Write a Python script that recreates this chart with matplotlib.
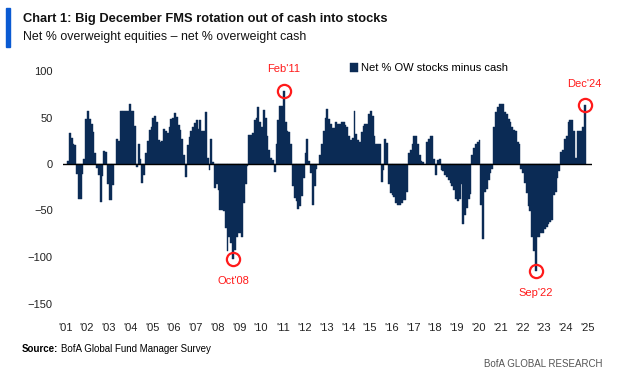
import numpy as np
import matplotlib
matplotlib.use("Agg")
from matplotlib import pyplot as plt
from matplotlib.patches import Rectangle

plt.rcParams['font.family'] = ['Liberation Sans', 'DejaVu Sans']

# monthly FMS readings, series starts Apr 2001
y2001 = [3, 33, 28, 22, 20, -11, -38, -38, -11, 5]
y2002 = [48, 57, 48, 43, 34, 12, -4, -12, -41, -13, 14, 13]
y2003 = [-22, -39, -39, -23, 0, 27, 25, 57, 57, 57, 57, 57]
y2004 = [64, 57, 57, 41, -3, 21, 5, -20, -12, 12, 25, 37]
y2005 = [40, 49, 52, 45, 26, 24, 25, 38, 36, 33, 40, 48]
y2006 = [50, 55, 51, 42, 37, 27, 10, -14, 20, 29, 36, 40]
y2007 = [44, 47, 38, 47, 36, 36, 56, 6, -6, 27, 2, -26]
y2008 = [-22, -28, -49, -49, -51, -69, -94, -79, -85, -102, -92, -79]
y2009 = [-74, -74, -79, -42, -22, -2, 31, 31, 33, 47, 49, 61]
y2010 = [45, 40, 58, 50, 30, 15, 6, 4, -9, 22, 47, 62]
y2011 = [62, 79, 45, 36, 34, 22, -24, -37, -40, -48, -45, -34]
y2012 = [-15, 12, 27, 3, -10, -44, -24, -5, 0, 10, 21, 36]
y2013 = [50, 59, 48, 43, 39, 39, 45, 43, 43, 45, 45, 42]
y2014 = [40, 30, 26, 28, 57, 32, 26, 24, 34, 41, 43, 43]
y2015 = [54, 57, 52, 30, 21, 21, 21, -19, -6, 27, 23, -21]
y2016 = [-31, -33, -35, -42, -44, -44, -42, -39, -39, -30, 12, 15]
y2017 = [21, 30, 30, 21, 10, 3, 2, 0, 24, 27, 30, 30]
y2018 = [5, -12, 4, 5, -6, -8, -12, -14, -17, -20, -24, -28]
y2019 = [-38, -40, -38, -22, -65, -55, -47, -38, -32, 10, 17, 22]
y2020 = [24, 26, -44, -81, -30, -27, -17, -10, -5, 40, 56, 61]
y2021 = [64, 64, 64, 56, 54, 48, 45, 40, 37, 36, 24, 21]
y2022 = [-5, -10, -20, -31, -45, -51, -78, -94, -115, -79, -79, -74]
y2023 = [-74, -70, -68, -65, -62, -60, -33, -30, -15, -8, 13, 15]
y2024 = [27, 30, 45, 47, 47, 36, 6, 36, 36, 36, 40, 63]

years = [y2001, y2002, y2003, y2004, y2005, y2006, y2007, y2008, y2009,
         y2010, y2011, y2012, y2013, y2014, y2015, y2016, y2017, y2018,
         y2019, y2020, y2021, y2022, y2023, y2024]
year_labels = ["'%02d" % y for y in range(1, 26)]

# callouts: (label, year, month 1-12, above?)
callouts = [("Oct'08", 2008, 10, False), ("Feb'11", 2011, 2, True),
            ("Sep'22", 2022, 9, False), ("Dec'24", 2024, 12, True)]

values = np.concatenate([np.array(v, float) for v in years])
first_month = 2  # Mar 2001, months counted from Jan 2001
months = np.arange(first_month, first_month + len(values))

navy = "#0b2b55"
red = "#ff1a1a"

W, H = 625, 376
fig = plt.figure(figsize=(W / 100, H / 100), dpi=100)
fx = lambda px: px / W
fy = lambda py: 1 - py / H

ax = fig.add_axes([fx(62.6), fy(303.5), (592 - 62.6) / W, (303.5 - 71) / H])
ax.bar(months, values, width=1.0, color=navy, edgecolor=navy, linewidth=0.3,
       label="Net % OW stocks minus cash")
ax.axhline(0, color="black", lw=1.0)

ax.set_xlim(-1, 291)
ax.set_ylim(-150, 100)
ax.set_yticks([-150, -100, -50, 0, 50, 100])
ax.set_xticks(np.arange(0, 25 * 12, 12) + 0.5)
ax.set_xticklabels(year_labels)
for s in ax.spines.values():
    s.set_visible(False)
ax.tick_params(axis="both", length=0, labelsize=8, colors="#222222")
ax.tick_params(axis="x", pad=14)
ax.tick_params(axis="y", pad=7)

for lab, yr, mo, above in callouts:
    m = (yr - 2001) * 12 + (mo - 1)
    v = values[m - first_month]
    ax.plot(m, v, "o", ms=9.5, mfc="none", mec=red, mew=1.6, clip_on=False)
    ax.annotate(lab, (m, v), xytext=(0, 12 if above else -12),
                textcoords="offset points", ha="center",
                va="bottom" if above else "top", color=red, fontsize=8)

ax.legend(loc="upper left", bbox_to_anchor=(fx(350), fy(63)),
          bbox_transform=fig.transFigure, frameon=False, fontsize=8,
          handlelength=0.7, handleheight=0.9, handletextpad=0.3,
          borderaxespad=0, borderpad=0)

fig.patches.append(Rectangle((fx(6), fy(47)), 4 / W, 39 / H, color="#0a5ad2",
                             transform=fig.transFigure))
fig.text(fx(23), fy(19), "Chart 1: Big December FMS rotation out of cash into stocks",
         fontsize=9.3, fontweight="bold", va="center", color="#111111")
fig.text(fx(23), fy(37), "Net % overweight equities \u2013 net % overweight cash",
         fontsize=8.9, va="center", color="#111111")

t1 = fig.text(fx(22), fy(349), "Source:", fontsize=7, fontweight="bold", va="center")
ax.annotate("BofA Global Fund Manager Survey", xy=(1, 0.5), xycoords=t1,
            xytext=(2, 0), textcoords="offset points",
            va="center", ha="left", fontsize=7)
fig.text(fx(603), fy(364), "BofA GLOBAL RESEARCH", ha="right", va="center",
         fontsize=7, color="#555555")

fig.savefig("out.png", dpi=100)
